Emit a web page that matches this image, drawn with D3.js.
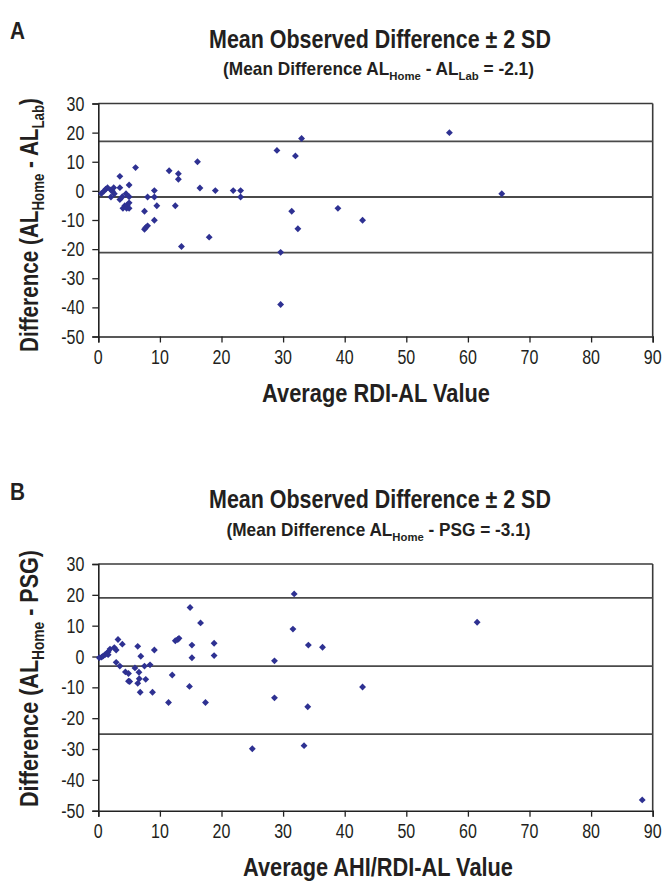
<!DOCTYPE html>
<html><head><meta charset="utf-8">
<script src="https://cdn.jsdelivr.net/npm/d3@7"></script>
<style>html,body{margin:0;padding:0;background:#fff}</style>
</head><body>
<script>
// ---------------- DATA ----------------
const xTicks = [0,10,20,30,40,50,60,70,80,90];
const yTicks = [30,20,10,0,-10,-20,-30,-40,-50];

// Panel A: Average RDI-AL value vs difference (AL_Home - AL_Lab)
const xA = [0.5,0.9,1.2,1.5,2.05,2.3,2.5,2.6,2.05,3.5,3.5,3.5,3.9,4.5,4.0,4.3,4.7,5.0,5.0,5.0,5.0,4.6,
            6.05,7.5,7.5,7.7,8.0,8.0,9.1,9.1,9.1,9.5,11.5,12.5,13.0,13.0,13.5,16.1,16.5,18.0,19.0,21.9,23.1,23.1,
            29.0,29.6,29.6,31.4,32.0,32.4,33.0,38.9,42.9,57.0,65.5];
const yA = [-0.9,-0.1,0.6,1.1,0.3,-0.1,1.1,-1.0,-2.1,5.0,1.1,-3.0,-2.0,-1.0,-6.0,-5.1,-4.9,2.0,-2.0,-4.1,-6.0,-6.0,
            8.0,-7.0,-13.2,-12.6,-12.0,-2.1,0.1,-2.1,-10.1,-5.1,6.9,-5.1,5.9,4.0,-19.1,10.0,1.0,-15.9,0.1,0.1,0.1,-2.1,
            13.9,-21.1,-39.0,-7.0,12.0,-13.0,18.0,-6.0,-10.1,20.0,-1.0];
const linesA = [17.0, -2.1, -21.2];   // +2SD, mean, -2SD

// Panel B: Average AHI/RDI-AL value vs difference (AL_Home - PSG)
const xB = [0.16,0.54,0.8,1.1,1.35,1.6,1.6,1.9,2.6,2.9,2.9,3.2,3.5,3.9,4.4,4.9,4.9,5.1,5.95,6.4,6.4,6.6,6.65,6.8,
            6.9,7.5,7.7,8.4,8.8,9.1,11.4,12.0,12.5,12.9,13.1,14.8,14.9,15.2,15.2,16.6,17.4,18.8,18.8,
            25.0,28.6,28.6,31.6,31.8,33.4,34.0,34.1,36.4,42.9,61.5,88.3];
const yB = [-0.4,-0.2,0.2,0.6,1.0,1.5,0.6,2.4,2.9,2.1,-1.9,5.5,-3.1,4.0,-5.0,-5.5,-8.0,-8.1,-3.7,3.3,-8.7,-5.1,-7.2,-11.6,
            0.1,-3.1,-7.4,-2.7,-11.6,2.1,-14.9,-6.0,5.1,5.5,5.9,-9.7,15.9,3.7,-0.4,10.9,-14.9,4.3,0.3,
            -29.9,-1.4,-13.4,8.9,20.3,-28.9,-16.3,3.7,3.0,-9.9,11.1,-46.5];
const linesB = [19.0, -3.1, -25.2];

// ---------------- RENDER ----------------
const W = 663, H = 881;
const svg = d3.select("body").append("svg").attr("width", W).attr("height", H);
const FAM = "'Liberation Sans', Arial, sans-serif";
const SX = 0.8;   // condensed look for tick labels

// text helper; if fitW is given, the text is horizontally scaled to that width
function txt(g, x, y, size, weight, anchor, rotate, parts, fitW){
  const outer = g.append("g");
  const t = outer.append("text").attr("font-family", FAM).attr("font-size", size)
    .attr("font-weight", weight).attr("text-anchor", anchor).attr("fill", "#231f20");
  (typeof parts === "string" ? [{t: parts}] : parts).forEach(p => {
    const ts = t.append("tspan").text(p.t);
    if (p.s) ts.attr("font-size", p.fs || size * 0.62).attr("dy", p.dy);
    else if (p.back) ts.attr("dy", -p.back);
  });
  let sx = SX;
  if (fitW) sx = fitW / t.node().getComputedTextLength();
  outer.attr("transform", `translate(${x},${y})` + (rotate ? ` rotate(${rotate})` : "") + ` scale(${sx},1)`);
  return t;
}

const MARK = "#2e3192";

function panel(cfg){
  const {left, right, top, bottom, xs, ys, lines, letter, letterY, titleY, subY, sub, subW,
         xLabel, xLabelX, xLabelY, xLabelW, yLabelParts, yLabelC, yLabelW} = cfg;
  const g = svg.append("g");
  const x = d3.scaleLinear().domain([0, 90]).range([left, right]);
  const y = d3.scaleLinear().domain([-50, 30]).range([bottom, top]);

  // frame top & right
  g.append("line").attr("x1", left).attr("x2", right).attr("y1", top).attr("y2", top)
    .attr("stroke", "#3a3a3a").attr("stroke-width", 1.6);
  g.append("line").attr("x1", right).attr("x2", right).attr("y1", top).attr("y2", bottom)
    .attr("stroke", "#3a3a3a").attr("stroke-width", 1.6);

  // stat lines
  g.selectAll(".stat").data(lines).enter().append("line")
    .attr("x1", left).attr("x2", right)
    .attr("y1", d => y(d)).attr("y2", d => y(d))
    .attr("stroke", "#4a4a4a").attr("stroke-width", 1.8);

  // axes
  const xAxis = d3.axisBottom(x).tickValues(xTicks).tickSize(6).tickFormat(() => "");
  const yAxis = d3.axisLeft(y).tickValues(yTicks).tickSize(6).tickFormat(() => "");
  const gx = g.append("g").attr("transform", `translate(0,${bottom})`).call(xAxis);
  const gy = g.append("g").attr("transform", `translate(${left},0)`).call(yAxis);
  [gx, gy].forEach(a => {
    a.select(".domain").attr("stroke", "#222").attr("stroke-width", 1.6);
    a.selectAll(".tick line").attr("stroke", "#222").attr("stroke-width", 1.3);
  });

  // tick labels
  xTicks.forEach(v => txt(g, x(v), bottom + 27, 20, "normal", "middle", 0, String(v)));
  yTicks.forEach(v => txt(g, left - 14, y(v) + 7, 20, "normal", "end", 0, String(v)));

  // points (diamonds)
  const sym = d3.symbol().type(d3.symbolDiamond2).size(30);
  g.selectAll(".pt").data(xs.map((v, i) => [v, ys[i]])).enter().append("path")
    .attr("d", sym)
    .attr("transform", d => `translate(${x(d[0])},${y(d[1])})`)
    .attr("fill", MARK);

  // panel letter
  txt(g, 10, letterY, 23, "bold", "start", 0, letter, 15);

  // title
  txt(g, 380, titleY, 25, "bold", "middle", 0, "Mean Observed Difference \u00B1 2 SD", 342);

  // subtitle with subscripts
  txt(g, 378.5, subY, 17.5, "bold", "middle", 0, sub, subW);

  // x label
  txt(g, xLabelX, xLabelY, 25, "bold", "middle", 0, xLabel, xLabelW);

  // y label (rotated)
  txt(g, 38, yLabelC, 25, "bold", "middle", -90, yLabelParts, yLabelW);
}

const subPart = (t) => ({t, s: true, fs: 11.5, dy: 5});
const backPart = (t) => ({t, back: 5});
const ySub = (t) => ({t, s: true, fs: 16, dy: 6});
const yBack = (t) => ({t, back: 6});

panel({
  left: 98.3, right: 652.7, top: 103.5, bottom: 336.5,
  xs: xA, ys: yA, lines: linesA,
  letter: "A", letterY: 38.5, titleY: 47.5, subY: 74.5,
  sub: [{t: "(Mean Difference AL"}, subPart("Home"), backPart(" - AL"), subPart("Lab"), backPart(" = -2.1)")],
  subW: 311,
  xLabel: "Average RDI-AL Value", xLabelX: 376, xLabelY: 401.5, xLabelW: 228,
  yLabelParts: [{t: "Difference (AL"}, ySub("Home"), yBack(" - AL"), ySub("Lab"), yBack(")")],
  yLabelC: 225, yLabelW: 254
});

panel({
  left: 98.3, right: 652.7, top: 564, bottom: 810.7,
  xs: xB, ys: yB, lines: linesB,
  letter: "B", letterY: 499.5, titleY: 508, subY: 535.5,
  sub: [{t: "(Mean Difference AL"}, subPart("Home"), backPart(" - PSG = -3.1)")],
  subW: 304,
  xLabel: "Average AHI/RDI-AL Value", xLabelX: 378, xLabelY: 876, xLabelW: 270,
  yLabelParts: [{t: "Difference (AL"}, ySub("Home"), yBack(" - PSG)")],
  yLabelC: 678.5, yLabelW: 257
});
</script>
</body></html>
